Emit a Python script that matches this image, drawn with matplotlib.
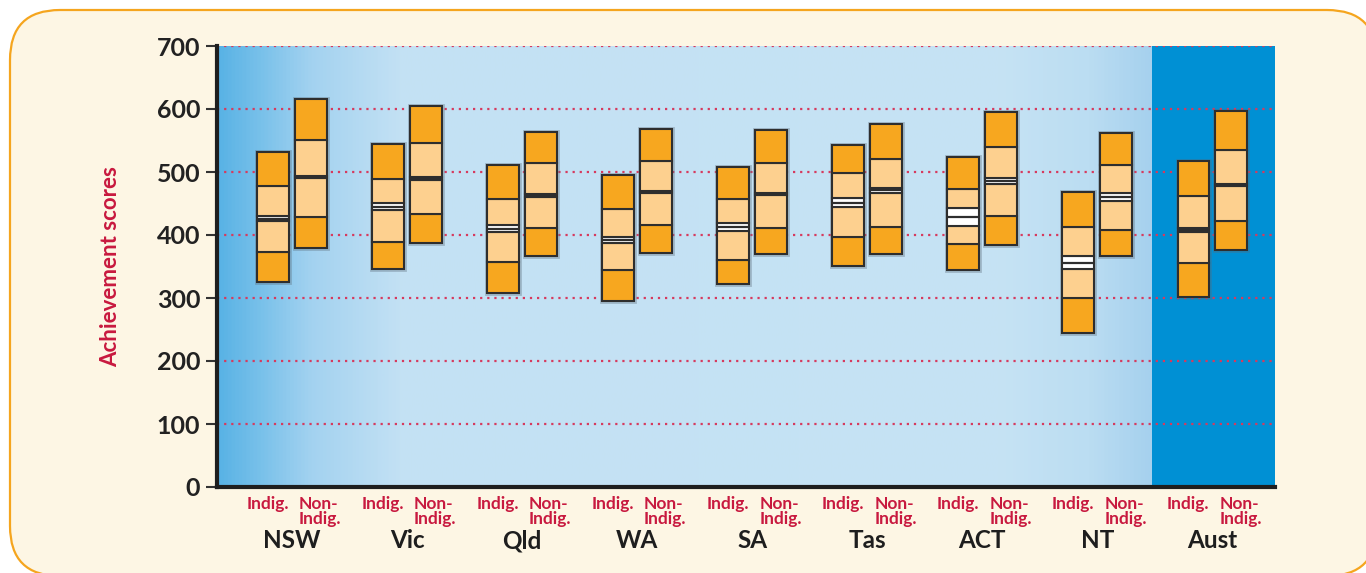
import numpy as np
import matplotlib
matplotlib.use("Agg")
import matplotlib.pyplot as plt
from matplotlib.colors import LinearSegmentedColormap
from matplotlib.patches import FancyBboxPatch
from matplotlib.transforms import IdentityTransform

# ---------------- data ----------------
states = ['NSW', 'Vic', 'Qld', 'WA', 'SA', 'Tas', 'ACT', 'NT', 'Aust']
group_labels = ['Indig.', 'Non-\nIndig.']

indig_p5 = [326, 346, 308, 296, 322, 351, 344, 244, 301]
indig_p25 = [373, 389, 357, 344, 360, 397, 385, 300, 356]
indig_mean = [426, 445, 410, 392, 413, 451, 429, 356, 408]
indig_ci = [4, 6, 6, 5, 6, 7, 14, 10, 3]
indig_p75 = [477, 489, 457, 441, 457, 498, 473, 412, 462]
indig_p95 = [531, 544, 511, 495, 508, 543, 524, 469, 517]

non_p5 = [380, 387, 367, 372, 370, 370, 384, 366, 376]
non_p25 = [429, 433, 411, 416, 411, 413, 430, 408, 423]
non_mean = [492, 490, 463, 468, 465, 471, 486, 460, 480]
non_ci = [2, 2, 2, 2, 2, 4, 5, 6, 1.5]
non_p75 = [551, 546, 514, 517, 514, 521, 540, 511, 535]
non_p95 = [616, 605, 563, 569, 567, 576, 595, 562, 597]

yticks = [0, 100, 200, 300, 400, 500, 600, 700]

# ---------------- style ----------------
W, H, DPI = 1366, 573, 100
CRIMSON = '#C8193F'
DARK_OR = '#F7A71F'
LIGHT_OR = '#FDD08F'
EDGE = '#2E2E2E'
FONT = ['Lato', 'DejaVu Sans']

plt.rcParams['font.family'] = FONT

fig = plt.figure(figsize=(W / DPI, H / DPI), dpi=DPI, facecolor='white')

# rounded cream frame (pixel coordinates)
frame = FancyBboxPatch((10 + 50, H - 576 + 50), 1377 - 10 - 100, 576 - 10 - 100,
                       boxstyle='round,pad=50', transform=IdentityTransform(),
                       facecolor='#FDF6E4', edgecolor='#F5A51E', linewidth=1.6,
                       zorder=-10)
fig.patches.append(frame)

ax_l, ax_r, ax_t, ax_b = 217, 1275, 46, 487
ax = fig.add_axes([ax_l / W, 1 - ax_b / H, (ax_r - ax_l) / W, (ax_b - ax_t) / H])

gc0 = 292.0          # pixel of first group centre
gstep = 115.06       # pixels between groups
xmin = (ax_l - gc0) / gstep
xmax = (ax_r - gc0) / gstep
x_aust = (1152 - gc0) / gstep

# gradient background
stops_px = [217, 260, 310, 400, 1000, 1090, 1152]
stops_col = ['#58B2E5', '#79C1EA', '#A3D2F0', '#C3E1F4', '#C6E3F4', '#BBDDF2', '#A6D1EE']
pos = [(p - 217) / (1152 - 217) for p in stops_px]
cmap = LinearSegmentedColormap.from_list('bg', list(zip(pos, stops_col)))
grad = np.linspace(0, 1, 512).reshape(1, -1)
ax.imshow(grad, cmap=cmap, extent=[xmin, x_aust, 0, 700], aspect='auto', zorder=0)
ax.axvspan(x_aust, xmax, color='#0090D4', zorder=0.5, lw=0)

ax.set_xlim(xmin, xmax)
ax.set_ylim(0, 700)

for yv in yticks[1:]:
    ax.axhline(yv, color='#D63A5E', lw=1.6, ls=(0, (1.0, 2.2)), zorder=1)

# boxes
off = 0.165
bw = 0.278
x = np.arange(len(states))


def draw(xs, p5, p25, mean, ci, p75, p95):
    p5, p25, mean, ci, p75, p95 = map(np.asarray, (p5, p25, mean, ci, p75, p95))
    lo, hi = mean - ci, mean + ci
    # soft shadow
    ax.bar(xs, p95 - p5, bottom=p5, width=bw, color='none',
           edgecolor='#5a6a78', lw=3.5, alpha=0.35, zorder=2)
    segs = [(p5, p25, DARK_OR), (p25, lo, LIGHT_OR), (lo, hi, 'white'),
            (hi, p75, LIGHT_OR), (p75, p95, DARK_OR)]
    for b, t, c in segs:
        ax.bar(xs, t - b, bottom=b, width=bw, color=c, edgecolor=EDGE,
               lw=1.5, zorder=3)
    ax.hlines(mean, xs - bw / 2, xs + bw / 2, color=EDGE, lw=1.6, zorder=4)


draw(x - off, indig_p5, indig_p25, indig_mean, indig_ci, indig_p75, indig_p95)
draw(x + off, non_p5, non_p25, non_mean, non_ci, non_p75, non_p95)

# axes styling
for s in ['top', 'right']:
    ax.spines[s].set_visible(False)
ax.spines['left'].set_linewidth(3)
ax.spines['left'].set_color('#1E1E1E')
ax.spines['bottom'].set_linewidth(3)
ax.spines['bottom'].set_color('#1E1E1E')
ax.spines['left'].set_zorder(6)
ax.spines['bottom'].set_zorder(6)

ax.set_yticks(yticks)
ax.set_yticklabels([str(v) for v in yticks], fontsize=18, fontweight='bold',
                   color='#222222')
ax.tick_params(axis='y', length=8, width=1.5, color='#333333', pad=4)
ax.set_xticks([])

ax.set_ylabel('Achievement scores', color=CRIMSON, fontsize=16, fontweight='bold')
ax.yaxis.set_label_coords((121 - ax_l) / (ax_r - ax_l), 0.5)

tr = ax.get_xaxis_transform()
ah = ax_b - ax_t
for i, st in enumerate(states):
    ax.text(i - off - 0.045, -(496 - ax_b) / ah, group_labels[0],
            transform=tr, ha='center', va='top', color=CRIMSON, fontsize=12.5,
            fontweight='bold')
    ax.text(i + 0.06, -(496 - ax_b) / ah, group_labels[1], transform=tr,
            ha='left', va='top', color=CRIMSON, fontsize=12.5, fontweight='bold',
            linespacing=0.92, multialignment='left')
    ax.text(i, -(529 - ax_b) / ah, st, transform=tr, ha='center', va='top',
            color='#1E1E1E', fontsize=17.5, fontweight='bold')

fig.savefig('out.png', dpi=DPI, facecolor=fig.get_facecolor())
